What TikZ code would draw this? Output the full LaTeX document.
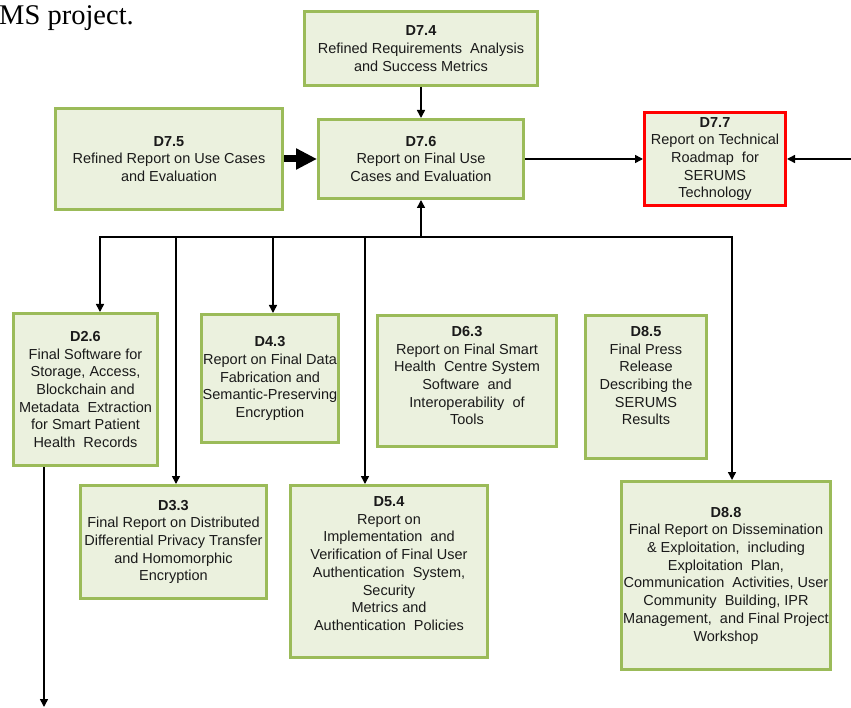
\documentclass[tikz,border=0pt]{standalone}
\usepackage{fontspec}
\setmainfont{Liberation Sans}
\newfontfamily\capfont{Liberation Serif}
\usetikzlibrary{arrows.meta}
\definecolor{boxgreen}{HTML}{9BBB59}
\definecolor{boxfill}{HTML}{EBF1DE}
\definecolor{boxred}{HTML}{FF0000}
\definecolor{txt}{HTML}{1A1A1A}
\tikzset{
  box/.style={draw=boxgreen, fill=boxfill, line width=3pt, align=center, inner sep=0pt,
    text=txt, font=\fontsize{14.5}{17.7}\selectfont},
  redbox/.style={box, draw=boxred},
  arr/.style={draw=black, line width=1.5pt, -{Triangle[length=8pt,width=8pt]}},
  plain/.style={draw=black, line width=1.5pt},
  fatarr/.style={draw=black, line width=7pt, -{Triangle[length=21pt,width=20pt]}},
}
\begin{document}
\begin{tikzpicture}[x=1pt,y=-1pt]
\useasboundingbox (0,0) rectangle (851,708);
\node[anchor=base east, font=\capfont\fontsize{28.5}{32}\selectfont, inner sep=0pt] (cap) at (134,25) {MS project.};

\node[box, minimum width=233pt, minimum height=74pt] (D74) at (421,48.5)
  {\textbf{D7.4}\\Refined Requirements\ \ Analysis\\and Success Metrics};
\node[box, minimum width=227pt, minimum height=101pt] (D75) at (169,159)
  {\textbf{D7.5}\\Refined Report on Use Cases\\and Evaluation};
\node[box, minimum width=205pt, minimum height=79pt] (D76) at (421,159)
  {\textbf{D7.6}\\Report on Final Use\\Cases and Evaluation};
\node[redbox, minimum width=141pt, minimum height=93pt] (D77) at (715,159)
  {\textbf{D7.7}\\Report on Technical\\Roadmap\ \ for\\SERUMS\\Technology};

\node[box, minimum width=144pt, minimum height=152pt] (D26) at (85.5,389.5)
  {\textbf{D2.6}\\Final Software for\\Storage, Access,\\Blockchain and\\Metadata\ \ Extraction\\for Smart Patient\\Health\ \ Records};
\node[box, minimum width=137pt, minimum height=128pt] (D43) at (270,378.5)
  {\textbf{D4.3}\\Report on Final Data\\Fabrication and\\Semantic-Preserving\\Encryption};
\node[box, minimum width=179pt, minimum height=131pt] (D63) at (467,381)
  {\textbf{D6.3}\\Report on Final Smart\\Health\ \ Centre System\\Software\ \ and\\Interoperability\ \ of\\Tools\rule[-11pt]{0pt}{0pt}};
\node[box, minimum width=121pt, minimum height=143pt] (D85) at (646,387)
  {\textbf{D8.5}\\Final Press\\Release\\Describing the\\SERUMS\\Results\rule[-23pt]{0pt}{0pt}};
\node[box, minimum width=186pt, minimum height=113pt] (D33) at (173.5,542)
  {\textbf{D3.3}\\Final Report on Distributed\\Differential Privacy Transfer\\and Homomorphic\\Encryption};
\node[box, minimum width=197pt, minimum height=172pt] (D54) at (389,571.5)
  {\textbf{D5.4}\\Report on\\Implementation\ \ and\\Verification of Final User\\Authentication\ \ System,\\Security\\Metrics and\\Authentication\ \ Policies\rule[-16pt]{0pt}{0pt}};
\node[box, minimum width=209pt, minimum height=188pt] (D88) at (726,575.5)
  {\textbf{D8.8}\\Final Report on Dissemination\\\& Exploitation,\ \ including\\Exploitation\ \ Plan,\\Communication\ \ Activities, User\\Community\ \ Building,\ IPR\\Management,\ \ and Final Project\\Workshop};

% top connectors
\draw[arr] (D74.south) -- (D76.north);
\draw[fatarr] (D75.east) -- (D76.west);
\draw[arr] (D76.east) -- (D77.west);
\coordinate (rin) at (851,159);
\draw[arr] (rin) -- (D77.east);

% bus
\coordinate (b0) at (100,237);
\coordinate (b1) at (176,237);
\coordinate (b2) at (273,237);
\coordinate (b3) at (365,237);
\coordinate (bc) at (421,237);
\coordinate (b5) at (732,237);
\draw[plain] ([xshift=-0.75pt]b0) -- ([xshift=0.75pt]b5);
\draw[arr] (bc) -- (bc |- D76.south);
\draw[arr] ([yshift=-0.75pt]b0) -- (b0 |- D26.north);
\draw[arr] ([yshift=-0.75pt]b1) -- (b1 |- D33.north);
\draw[arr] ([yshift=-0.75pt]b2) -- (b2 |- D43.north);
\draw[arr] ([yshift=-0.75pt]b3) -- (b3 |- D54.north);
\draw[arr] ([yshift=-0.75pt]b5) -- (b5 |- D88.north);

% outgoing from D2.6
\coordinate (out) at (44,707);
\draw[arr] (out |- D26.south) -- (out);
\end{tikzpicture}
\end{document}
